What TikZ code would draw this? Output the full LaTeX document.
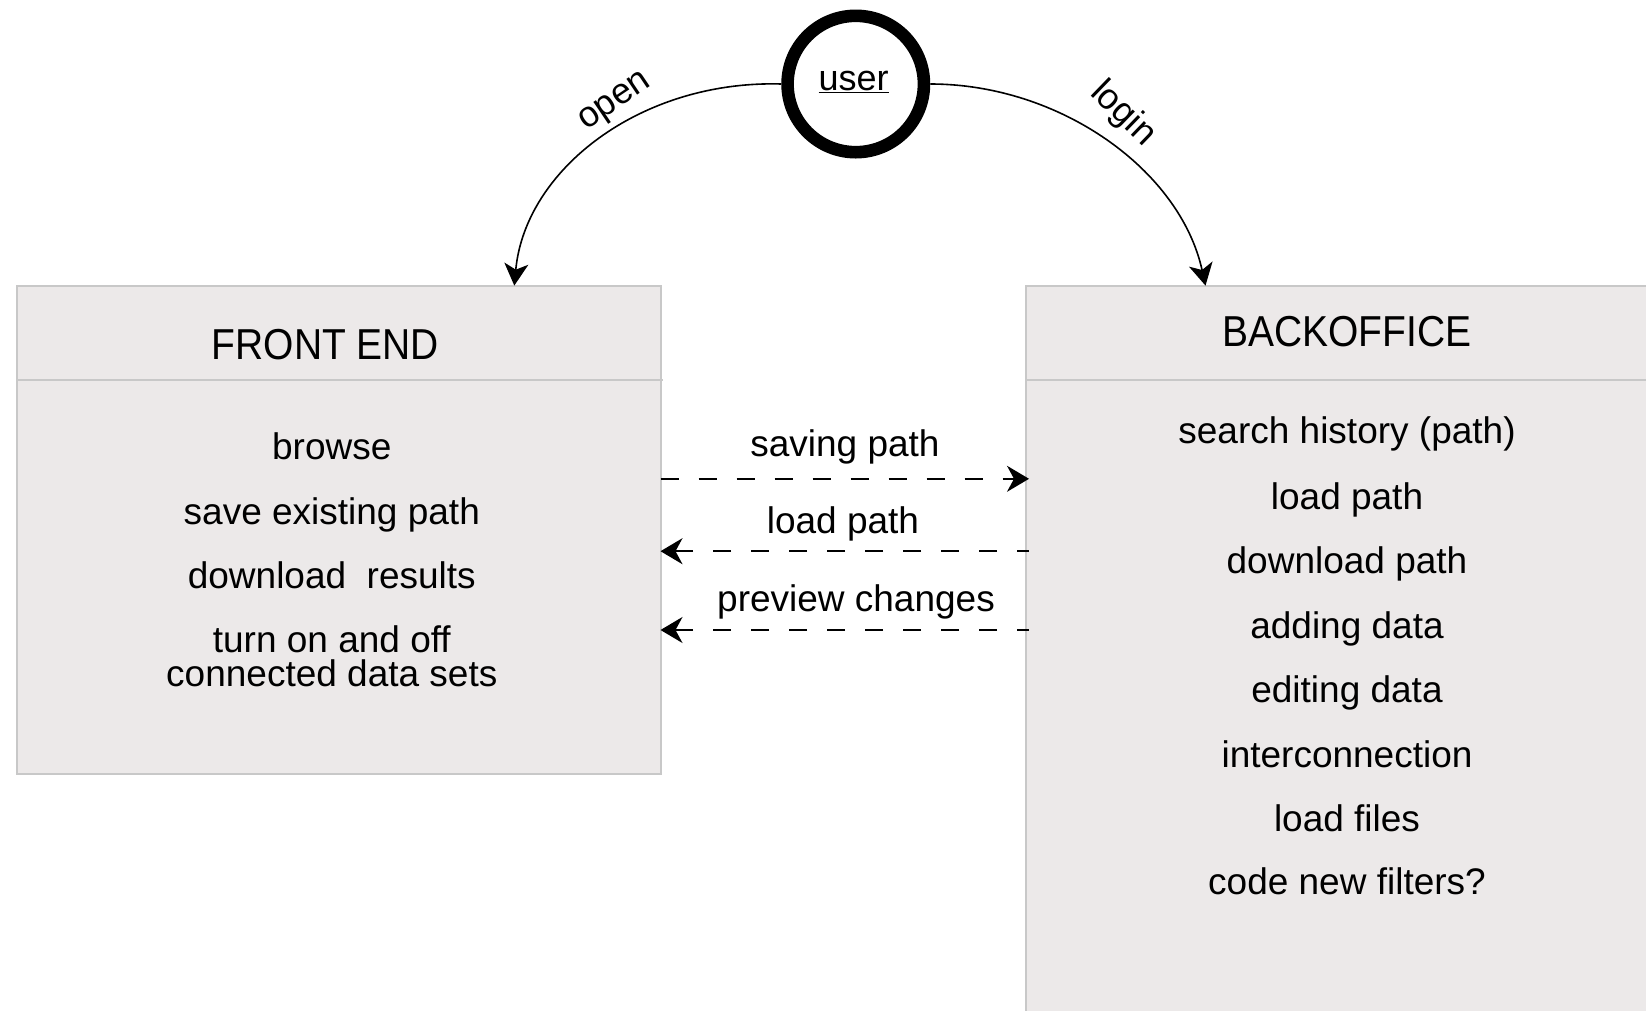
\documentclass[tikz,border=0pt]{standalone}
\usepackage{fontspec}
\setmainfont{Liberation Sans}
\usetikzlibrary{arrows.meta,calc}
\definecolor{boxfill}{RGB}{236,233,233}
\definecolor{boxline}{RGB}{200,200,200}
\begin{document}
\begin{tikzpicture}[x=1pt,y=-1pt,
  box/.style={draw=boxline,fill=boxfill,line width=2pt,rectangle,inner sep=0pt,outer sep=0pt,anchor=north west},
  item/.style={font=\fontsize{37}{34.6}\selectfont,anchor=base,inner sep=0pt},
  ttl/.style={font=\fontsize{43.3}{50}\selectfont,anchor=base,inner sep=0pt},
  lbl/.style={font=\fontsize{37}{40}\selectfont,anchor=base,inner sep=0pt},
  clbl/.style={font=\fontsize{36}{40}\selectfont,inner sep=0pt},
  dasharrow/.style={line width=1.6pt,dash pattern=on 18pt off 20pt},
  tipS/.style={-{Stealth[length=22pt,width=26pt,inset=7pt]}},
  curvearrow/.style={line width=1.6pt,-{Stealth[length=22pt,width=24pt,inset=6pt]}}
]
\useasboundingbox (0,0) rectangle (1646,1010);
\clip (0,0) rectangle (1646,1010);
\fill[white] (0,0) rectangle (1646,1010);

% boxes
\node[box,minimum width=643.7pt,minimum height=488.3pt] (front) at (16.8,285.6) {};
\node[box,minimum width=700pt,minimum height=800pt] (back) at (1026,285.6) {};
\draw[boxline,line width=2pt] (front.north west |- 0,380) -- (662.5,380);
\draw[boxline,line width=2pt] (back.north west |- 0,380) -- (1700,380);

% titles
\node[ttl] (fetitle) at (325.5,359.5) {\scalebox{0.9}[1]{FRONT END}};
\node[ttl] (botitle) at (1347,346.5) {\scalebox{0.9}[1]{BACKOFFICE}};

% front end items
\node[item] (f1) at (331.8,459.5) {browse};
\node[item] (f2) at (331.8,524.5) {save existing path};
\node[item] (f3) at (331.8,588) {download\ \ results};
\node[item] (f4) at (331.8,652) {turn on and off};
\node[item] (f5) at (331.8,686.5) {connected data sets};

% backoffice items
\node[item] (b1) at (1347,443) {search history (path)};
\node[item] (b2) at (1347,509) {load path};
\node[item] (b3) at (1347,573.5) {download path};
\node[item] (b4) at (1347,638) {adding data};
\node[item] (b5) at (1347,702) {editing data};
\node[item] (b6) at (1347,767) {interconnection};
\node[item] (b7) at (1347,831) {load files};
\node[item] (b8) at (1347,894.5) {code new filters?};

% user
\node[circle,draw=black,line width=12.6pt,minimum size=136.4pt,inner sep=0pt] (user) at (855.75,84) {};
\node[font=\fontsize{36}{40}\selectfont,inner sep=0pt] (usertxt) at (853.6,82) {\underline{user}};

% curved arrows
\coordinate (feTop) at ($(front.north west)+(497.5,0)$);
\coordinate (boTop) at ($(back.north west)+(179.5,0)$);
\draw[curvearrow] (user.west) .. controls (640,80) and (525,170) .. (feTop);
\draw[curvearrow] (user.east) .. controls (1060,84) and (1180,170) .. (boTop);
\node[clbl,rotate=34] (openlbl) at (616,103) {open};
\node[clbl,rotate=-44] (loginlbl) at (1123,114) {login};

% dashed arrows
\coordinate (s1a) at ($(front.north east)+(0,193.2)$);
\coordinate (s1b) at ($(back.north west)+(3,193.2)$);
\coordinate (s2a) at ($(front.north east)+(0,265.6)$);
\coordinate (s2b) at ($(back.north west)+(3,265.6)$);
\coordinate (s3a) at ($(front.north east)+(0,344.4)$);
\coordinate (s3b) at ($(back.north west)+(3,344.4)$);
\draw[dasharrow,tipS] (s1a) -- (s1b);
\draw[dasharrow,dash phase=6pt,tipS] (s2b) -- (s2a);
\draw[dasharrow,dash phase=6pt,tipS] (s3b) -- (s3a);
\node[lbl] (l1) at (845,456) {saving path};
\node[lbl] (l2) at (843,533) {load path};
\node[lbl] (l3) at (856,611) {preview changes};
\end{tikzpicture}
\end{document}
